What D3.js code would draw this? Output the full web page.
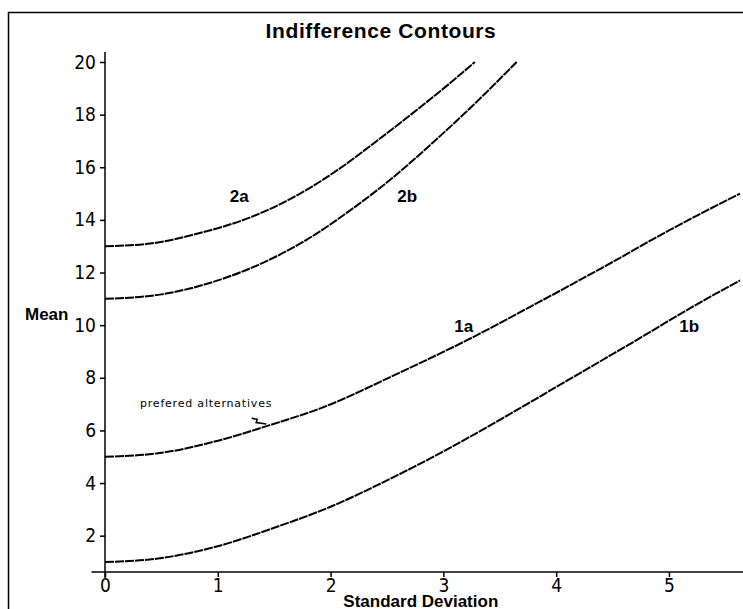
<!DOCTYPE html>
<html>
<head>
<meta charset="utf-8">
<script src="https://cdn.jsdelivr.net/npm/d3@7"></script>
<style>
  body { margin: 0; background: #fff; }
  svg { display: block; }
</style>
</head>
<body>
<div id="chart-area"></div>
<script>
// Valores: desviacion estandar (x) y media (y) de cada contorno
var sd1a   = [0, 0.5, 1.02, 1.46, 1.91, 2.62, 3.21, 3.88, 4.5, 5.0, 5.63];
var mean1a = [5, 5.15, 5.63, 6.2, 6.84, 8.21, 9.43, 10.95, 12.4, 13.6, 15.0];

var sd1b   = [0, 0.5, 1.0, 1.5, 2.0, 2.5, 3.0, 3.5, 4.1, 4.68, 5.21, 5.63];
var mean1b = [1, 1.15, 1.6, 2.3, 3.1, 4.1, 5.2, 6.4, 7.9, 9.35, 10.7, 11.7];

var sd2a   = [0, 0.4, 0.84, 1.29, 1.73, 2.08, 2.41, 2.8, 3.06, 3.28];
var mean2a = [13, 13.1, 13.5, 14.1, 15.0, 15.95, 17.0, 18.3, 19.2, 20];

var sd2b   = [0, 0.5, 1.0, 1.4, 1.79, 2.17, 2.55, 2.91, 3.25, 3.65];
var mean2b = [11, 11.17, 11.7, 12.37, 13.25, 14.35, 15.6, 16.95, 18.3, 20];

var curveNames = ["1a", "1b", "2a", "2b"];
var xTicks = [0, 1, 2, 3, 4, 5];
var yTicks = [2, 4, 6, 8, 10, 12, 14, 16, 18, 20];

var W = 743, H = 609;

var svg = d3.select("#chart-area").append("svg")
    .attr("width", W)
    .attr("height", H);

// marco de la ventana
svg.append("path")
    .attr("d", "M8.5," + H + "V12.5H" + W)
    .attr("fill", "none")
    .attr("stroke", "#000")
    .attr("stroke-width", 1.5);

// escalas
var x = d3.scaleLinear().domain([0, 5.63]).range([105, 740]);
var y = d3.scaleLinear().domain([0.62, 20]).range([572, 62]);

var tickFont = "'Liberation Sans Narrow', 'DejaVu Sans Condensed', Arial, sans-serif";
var boldFont = "'Liberation Sans', Arial, sans-serif";

// eje x
var minorX = d3.range(0, 5.61, 0.2).filter(function(d) { return Math.abs(d - Math.round(d)) > 0.01; });
var xAxisG = svg.append("g").attr("transform", "translate(0," + y(0.62) + ")");
xAxisG.call(d3.axisBottom(x).tickValues(minorX).tickSize(3).tickFormat(""));
xAxisG.call(d3.axisBottom(x).tickValues(xTicks).tickSize(5).tickPadding(2).tickFormat(d3.format("d")));
xAxisG.selectAll(".domain").remove();
xAxisG.append("line")
    .attr("x1", x(-0.12)).attr("x2", W)
    .attr("stroke", "#000").attr("stroke-width", 1.5);

// eje y
var minorY = d3.range(1.2, 20.01, 0.4).filter(function(d) { return Math.abs(d / 2 - Math.round(d / 2)) > 0.01; });
var yAxisG = svg.append("g").attr("transform", "translate(" + x(0) + ",0)");
yAxisG.call(d3.axisLeft(y).tickValues(minorY).tickSize(3).tickFormat(""));
yAxisG.call(d3.axisLeft(y).tickValues(yTicks).tickSize(5).tickPadding(4).tickFormat(d3.format("d")));
yAxisG.selectAll(".domain").remove();
yAxisG.append("line")
    .attr("y1", y(0.62) + 6).attr("y2", y(20) - 10)
    .attr("stroke", "#000").attr("stroke-width", 1.5);

svg.selectAll(".tick line").attr("stroke", "#000").attr("stroke-width", 1.5);
svg.selectAll(".tick text")
    .attr("fill", "#000")
    .style("font-family", tickFont)
    .style("font-size", "19px");

// contornos
var curves = [
    { name: "1a", sd: sd1a, mean: mean1a },
    { name: "1b", sd: sd1b, mean: mean1b },
    { name: "2a", sd: sd2a, mean: mean2a },
    { name: "2b", sd: sd2b, mean: mean2b }
];

var line = d3.line()
    .x(function(d) { return x(d[0]); })
    .y(function(d) { return y(d[1]); })
    .curve(d3.curveMonotoneX);

svg.selectAll("path.contour")
    .data(curves)
    .enter().append("path")
    .attr("class", "contour")
    .attr("d", function(c) { return line(d3.zip(c.sd, c.mean)); })
    .attr("fill", "none")
    .attr("stroke", "#000")
    .attr("stroke-width", 2)
    .attr("stroke-dasharray", "9,1");

// etiquetas de los contornos
var labelAt = { "1a": [3.18, 9.96], "1b": [5.18, 9.96], "2a": [1.19, 14.9], "2b": [2.68, 14.9] };
svg.selectAll("text.clabel")
    .data(curveNames)
    .enter().append("text")
    .attr("class", "clabel")
    .attr("x", function(d) { return x(labelAt[d][0]); })
    .attr("y", function(d) { return y(labelAt[d][1]) + 6; })
    .attr("text-anchor", "middle")
    .style("font-family", boldFont)
    .style("font-weight", "bold")
    .style("font-size", "17px")
    .text(function(d) { return d; });

// anotacion
svg.append("text")
    .attr("x", x(0.31))
    .attr("y", y(6.88))
    .style("font-family", "'DejaVu Sans', sans-serif")
    .style("font-size", "11px")
    .style("letter-spacing", "0.8px")
    .text("prefered alternatives");

var arrow = [[1.30, 6.46], [1.35, 6.42], [1.34, 6.3], [1.43, 6.24]];
svg.append("path")
    .attr("d", d3.line().x(function(d) { return x(d[0]); }).y(function(d) { return y(d[1]); })(arrow))
    .attr("fill", "none")
    .attr("stroke", "#000")
    .attr("stroke-width", 1.5);

// titulos
svg.append("text")
    .attr("x", 381)
    .attr("y", 38)
    .attr("text-anchor", "middle")
    .style("font-family", boldFont)
    .style("font-size", "21px")
    .style("font-weight", "bold")
    .style("letter-spacing", "0.6px")
    .text("Indifference Contours");

svg.append("text")
    .attr("x", 25)
    .attr("y", y(10.2))
    .style("font-family", boldFont)
    .style("font-weight", "bold")
    .style("font-size", "17px")
    .text("Mean");

svg.append("text")
    .attr("x", x(2.8))
    .attr("y", 607)
    .attr("text-anchor", "middle")
    .style("font-family", boldFont)
    .style("font-weight", "bold")
    .style("font-size", "17px")
    .text("Standard Deviation");
</script>
</body>
</html>
